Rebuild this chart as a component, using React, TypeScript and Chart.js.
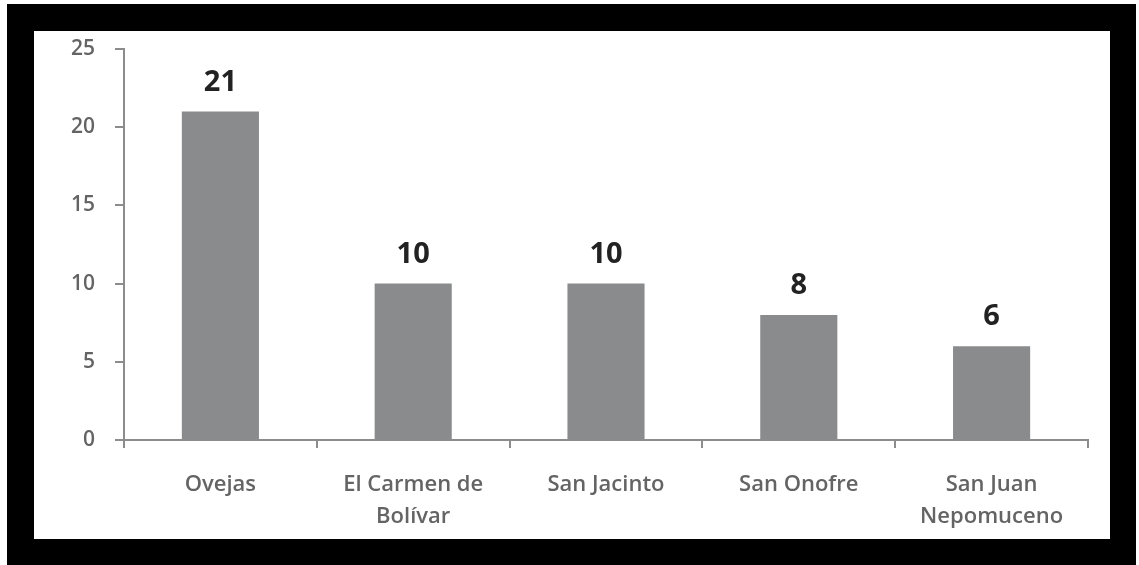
import { useEffect, useRef } from 'react';
import { Chart, ChartConfiguration, Plugin, registerables } from 'chart.js';

Chart.register(...registerables);

const municipios: (string | string[])[] = [
  'Ovejas',
  ['El Carmen de', 'Bolívar'],
  'San Jacinto',
  'San Onofre',
  ['San Juan', 'Nepomuceno'],
];
const casos = [21, 10, 10, 8, 6];
const yTicks = [0, 5, 10, 15, 20, 25];

const axisGray = '#8c8c8c';
const textGray = '#646464';

// draws the bold value over each bar
const valueLabels: Plugin<'bar'> = {
  id: 'valueLabels',
  afterDatasetsDraw(chart) {
    const { ctx } = chart;
    const meta = chart.getDatasetMeta(0);
    ctx.save();
    ctx.font = 'bold 29px "Open Sans"';
    ctx.fillStyle = '#222222';
    ctx.textAlign = 'center';
    ctx.textBaseline = 'alphabetic';
    meta.data.forEach((bar, i) => {
      ctx.fillText(String(casos[i]), bar.x, bar.y - 21);
    });
    ctx.restore();
  },
};

export default function App() {
  const chartRef = useRef<HTMLCanvasElement | null>(null);
  const chartInstance = useRef<Chart | null>(null);

  useEffect(() => {
    if (!chartRef.current) return;
    const ctx = chartRef.current.getContext('2d');
    if (!ctx) return;

    const config: ChartConfiguration<'bar'> = {
      type: 'bar',
      data: {
        labels: municipios,
        datasets: [
          {
            data: casos,
            backgroundColor: '#8a8b8d',
            borderWidth: 0,
            categoryPercentage: 1,
            barPercentage: 0.4,
          },
        ],
      },
      options: {
        responsive: true,
        maintainAspectRatio: false,
        animation: false,
        layout: { padding: { top: 18, right: 22, left: 0, bottom: 0 } },
        plugins: {
          legend: { display: false },
          tooltip: { enabled: false },
        },
        scales: {
          x: {
            grid: {
              display: true,
              offset: true,
              drawOnChartArea: false,
              drawTicks: true,
              tickLength: 8,
              color: axisGray,
              lineWidth: 2,
            },
            border: { display: true, color: axisGray, width: 2 },
            ticks: {
              color: textGray,
              padding: 21,
              maxRotation: 0,
              autoSkip: false,
              font: { family: '"Open Sans"', size: 22, weight: 600, lineHeight: 1.45 },
            },
            afterFit(scale) {
              scale.height = 99;
            },
          },
          y: {
            min: 0,
            max: 25,
            afterBuildTicks(scale) {
              scale.ticks = yTicks.map(v => ({ value: v }));
            },
            grid: {
              display: true,
              drawOnChartArea: false,
              drawTicks: true,
              tickLength: 9,
              color: axisGray,
              lineWidth: 2,
            },
            border: { display: true, color: axisGray, width: 2 },
            ticks: {
              color: textGray,
              padding: 20,
              font: { family: '"Open Sans"', size: 21, weight: 600 },
            },
            afterFit(scale) {
              scale.width = 90;
              // tick padding would otherwise push the plot area down
              scale.paddingTop = 12;
              scale.paddingBottom = 12;
            },
          },
        },
      },
      plugins: [valueLabels],
    };

    if (chartInstance.current) {
      chartInstance.current.destroy();
    }
    chartInstance.current = new Chart(ctx, config);

    return () => {
      if (chartInstance.current) {
        chartInstance.current.destroy();
        chartInstance.current = null;
      }
    };
  }, []);

  return (
    <div style={{ position: 'fixed', left: 0, top: 0, width: 1139, height: 565, background: '#fff' }}>
      <div style={{ position: 'absolute', left: 7, top: 4, width: 1129, height: 561, background: '#000' }} />
      <div style={{ position: 'absolute', left: 34, top: 31, width: 1076, height: 508, background: '#fff' }}>
        <canvas ref={chartRef} />
      </div>
    </div>
  );
}
